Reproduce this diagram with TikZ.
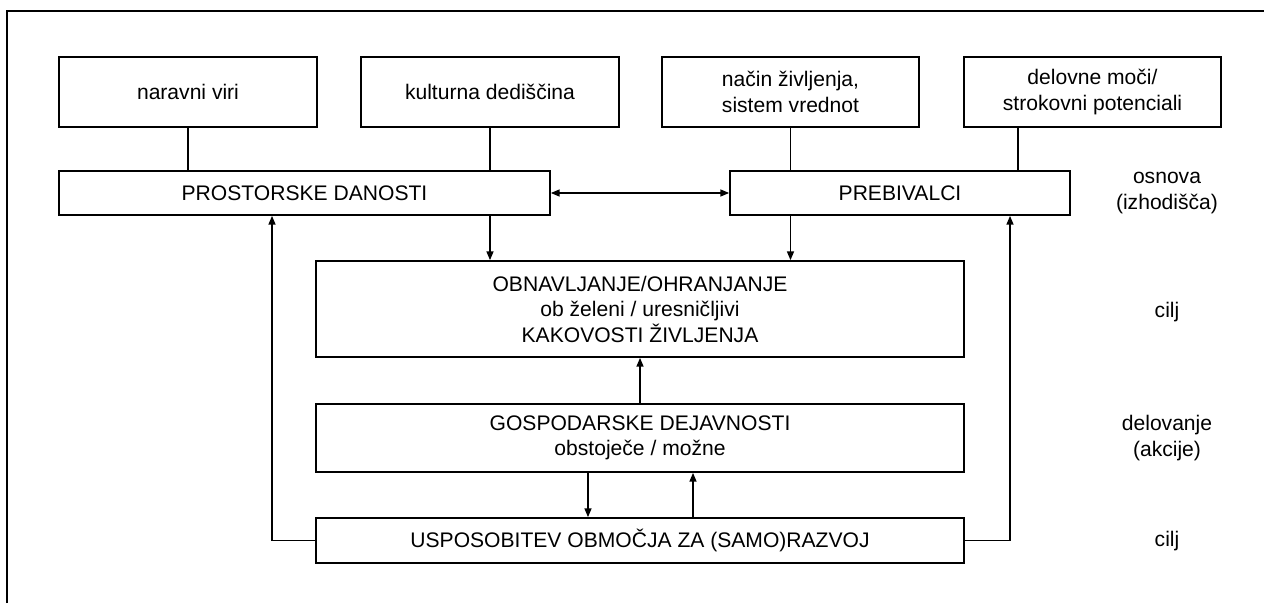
\documentclass[tikz,border=0pt]{standalone}
\usepackage{fontspec}
\setmainfont{Liberation Sans}
\usetikzlibrary{arrows.meta}

\begin{document}
\begin{tikzpicture}[x=0.02cm,y=-0.02cm]
		\tikzset{box/.style={draw,line width=1pt,inner sep=2pt,align=center,font=\fontsize{12}{14.5}\selectfont}};
		\tikzset{lbl/.style={align=center,font=\fontsize{12}{14.5}\selectfont}};
		\tikzset{con/.style={line width=0.8pt}};
		\tikzset{arr/.style={con,-{Triangle[length=5pt,width=4pt]}}};
		
		\useasboundingbox (0,0) rectangle (1264,603);
		\draw [line width=1.6pt] (7,603)--(7,11)--(1264,11);
		
		% vrhnja vrsta
		\node (nar) at (188,92) [box,minimum width=5.16cm,minimum height=1.4cm]{naravni viri};
		\node (kul) at (490,92) [box,minimum width=5.16cm,minimum height=1.4cm]{kulturna dediščina};
		\node (nac) at (790.5,92) [box,minimum width=5.14cm,minimum height=1.4cm]{način življenja,\\sistem vrednot};
		\node (del) at (1092.5,92) [box,minimum width=5.14cm,minimum height=1.4cm]{delovne moči/\\strokovni potenciali};
		
		\node (pro) at (304.5,193) [box,minimum width=9.82cm,minimum height=0.88cm]{PROSTORSKE DANOSTI};
		\node (pre) at (900,193) [box,minimum width=6.8cm,minimum height=0.88cm]{PREBIVALCI};
		
		\node (obn) at (640,309) [box,minimum width=12.96cm,minimum height=1.92cm]{OBNAVLJANJE/OHRANJANJE\\ob želeni / uresničljivi\\KAKOVOSTI ŽIVLJENJA};
		\node (gos) at (640,438) [box,minimum width=12.96cm,minimum height=1.36cm]{GOSPODARSKE DEJAVNOSTI\\obstoječe / možne};
		\node (usp) at (640,540.5) [box,minimum width=12.96cm,minimum height=0.9cm]{USPOSOBITEV OBMOČJA ZA (SAMO)RAZVOJ};
		
		% desno
		\node (osn) at (1167,193) [lbl]{osnova\\(izhodišča)};
		\node (ci1) at (1167,312) [lbl]{cilj};
		\node (dlv) at (1167,438) [lbl]{delovanje\\(akcije)};
		\node (ci2) at (1167,541) [lbl]{cilj};
		
		\coordinate (d1) at (1018,0);
		\coordinate (lft) at (272,0);
		\coordinate (rgt) at (1010,0);
		\coordinate (dol) at (588,0);
		\coordinate (gor) at (693,0);
		
		\draw [con] (nar.south)--(nar.south |- pro.north);
		\draw [con] (kul.south)--(kul.south |- pro.north);
		\draw [con] (nac.south)--(nac.south |- pre.north);
		\draw [con] (del.south -| d1)--(pre.north -| d1);
		
		\draw [con,{Triangle[length=5pt,width=4pt]}-{Triangle[length=5pt,width=4pt]}] (pro.east)--(pre.west);
		\draw [arr] (pro.south -| kul.south)--(obn.north -| kul.south);
		\draw [arr] (pre.south -| nac.south)--(obn.north -| nac.south);
		\draw [arr] (gos.north)--(obn.south);
		\draw [arr] (gos.south -| dol)--(usp.north -| dol);
		\draw [arr] (usp.north -| gor)--(gos.south -| gor);
		\draw [arr] (usp.west) -| (pro.south -| lft);
		\draw [arr] (usp.east) -| (pre.south -| rgt);
		\end{tikzpicture}
\end{document}
